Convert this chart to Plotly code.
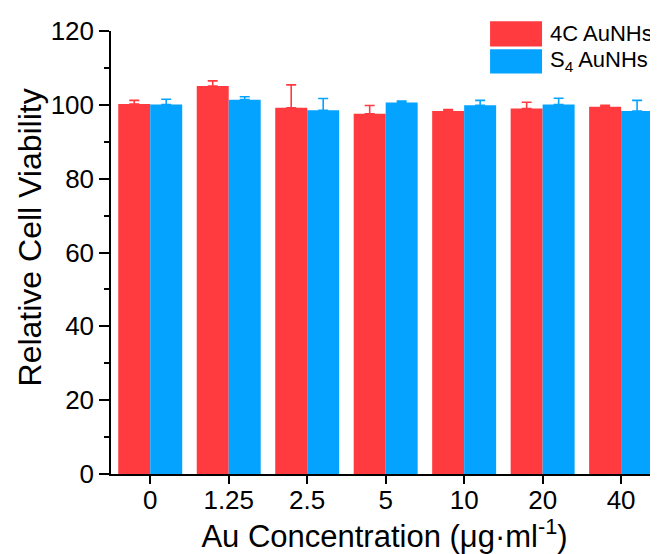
import plotly.graph_objects as go

categories = ["0", "1.25", "2.5", "5", "10", "20", "40"]
red_vals = [100.2, 105.1, 99.2, 97.6, 98.3, 99.0, 99.5]
red_err = [1.0, 1.4, 6.2, 2.2, 0.4, 1.7, 0.4]
blue_vals = [100.1, 101.4, 98.5, 100.6, 99.9, 100.1, 98.3]
blue_err = [1.4, 0.8, 3.2, 0.4, 1.3, 1.7, 2.9]
series_names = ["4C AuNHs", "S<sub>4</sub> AuNHs"]
red = "#FF3B3F"
blue = "#04A3FF"
FONT = "Liberation Sans, Arial, sans-serif"

fig = go.Figure()
for vals, err, col, name in [(red_vals, red_err, red, series_names[0]),
                             (blue_vals, blue_err, blue, series_names[1])]:
    fig.add_trace(go.Bar(
        x=list(range(len(categories))), y=vals, name=name,
        marker=dict(color=col, line=dict(width=0)),
        error_y=dict(type="data", array=err, arrayminus=[0]*len(err), symmetric=False,
                     color=col, thickness=1.6, width=5),
        showlegend=False,
    ))

fig.update_layout(
    width=650, height=546,
    margin=dict(l=103, r=0, t=23, b=80, pad=0),
    paper_bgcolor="white", plot_bgcolor="white",
    barmode="group", bargap=0.185, bargroupgap=0,
    font=dict(family=FONT, size=26, color="black"),
    xaxis=dict(
        range=[-0.5, 6.47], tickmode="array",
        tickvals=list(range(len(categories))), ticktext=categories,
        showline=True, linecolor="black", linewidth=1.5,
        ticks="outside", ticklen=8, tickwidth=1.5, tickcolor="black",
        ticklabelstandoff=-6,
        showgrid=False, zeroline=False,
        tickfont=dict(size=26),
        title=dict(text="Au Concentration (\u03bcg\u00b7ml<sup>-1</sup>)", font=dict(size=31), standoff=8),
    ),
    yaxis=dict(
        range=[0, 120], dtick=20, tick0=0,
        showline=True, linecolor="black", linewidth=1.5,
        ticks="outside", ticklen=10, tickwidth=1.5, tickcolor="black",
        minor=dict(dtick=10, ticks="outside", ticklen=5, tickwidth=1.5, tickcolor="black"),
        showgrid=False, zeroline=False,
        tickfont=dict(size=26),
    ),
)

# y-axis title placed as annotation (centred slightly above plot middle, as in reference)
fig.add_annotation(xref="paper", yref="paper", x=-0.148, y=0.534, text="Relative Cell Viability",
                   textangle=-90, showarrow=False, xanchor="center", yanchor="middle",
                   font=dict(family=FONT, size=32, color="black"))

# legend drawn manually (large colour boxes)
leg_items = [(red, series_names[0], 1.022, 0.965), (blue, series_names[1], 0.959, 0.904)]
for col, name, y1, y0 in leg_items:
    fig.add_shape(type="rect", xref="paper", yref="paper", x0=0.693, x1=0.788, y0=y0, y1=y1,
                  fillcolor=col, line=dict(width=0), layer="above")
    fig.add_annotation(xref="paper", yref="paper", x=0.799, y=(y0 + y1) / 2, text=name,
                       showarrow=False, xanchor="left", yanchor="middle",
                       font=dict(family=FONT, size=22, color="black"))

fig.write_html("out.html")
